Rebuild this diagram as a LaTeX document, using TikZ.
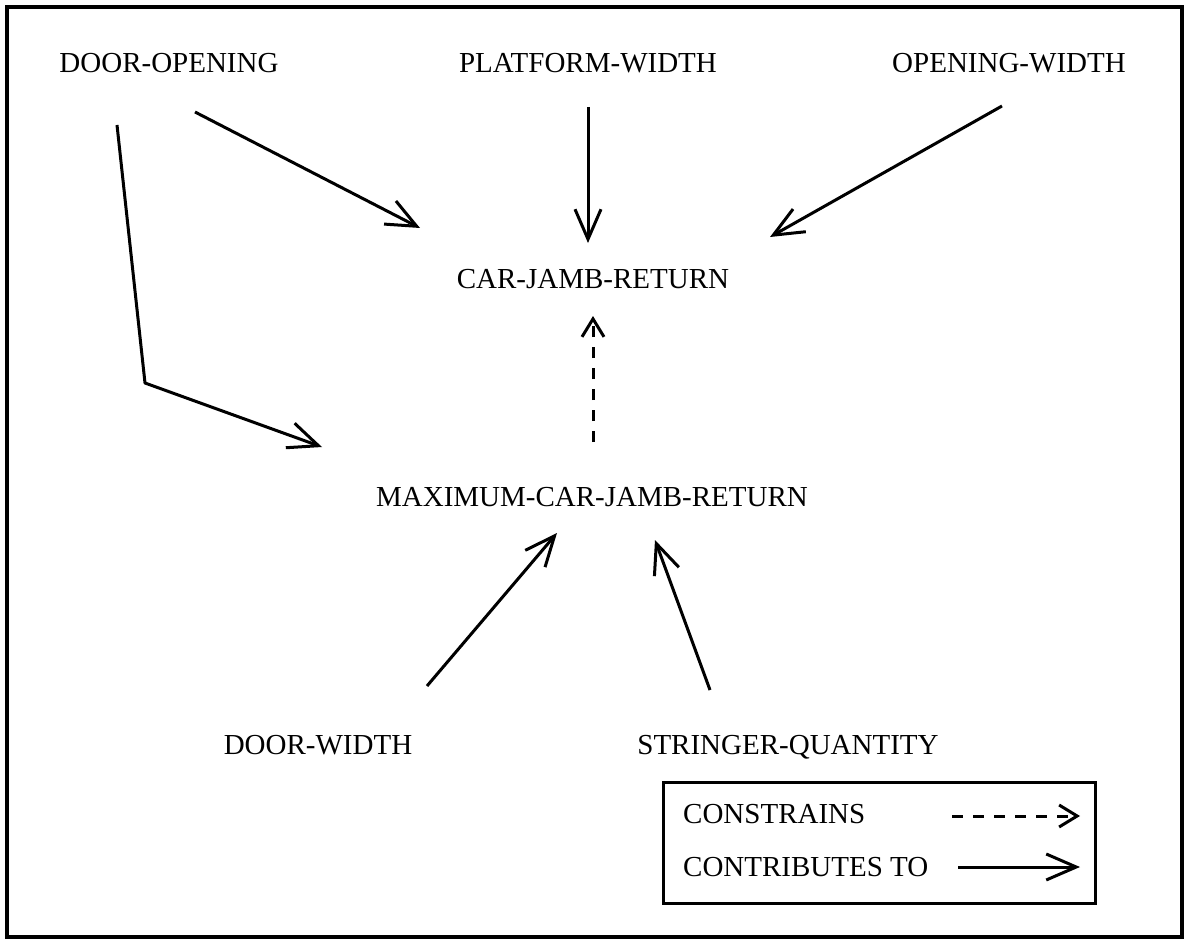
\documentclass[tikz,border=0pt]{standalone}
\usepackage{fontspec}
\setmainfont{Liberation Serif}
\usetikzlibrary{arrows.meta}
\begin{document}
\begin{tikzpicture}[x=1pt,y=-1pt,
  lbl/.style={inner sep=0pt,anchor=base,font=\fontsize{29}{34}\selectfont},
  lgd/.style={inner sep=0pt,anchor=base west,font=\fontsize{29}{34}\selectfont},
  contrib/.style={line width=3pt,line join=round,
    -{Straight Barb[length=30pt,width=26pt,line width=3pt]}},
  constr/.style={line width=3pt,dash pattern=on 11pt off 10pt,
    -{Straight Barb[length=18pt,width=22pt,line width=3pt]}}]
\useasboundingbox (0,0) rectangle (1187,939);
% outer frame
\draw[line width=3.5pt] (7,7) rectangle (1182,937);

% parameters
\node[lbl] (dooropen) at (169,73) {DOOR-OPENING};
\node[lbl] (platw)    at (588,73) {PLATFORM-WIDTH};
\node[lbl] (openw)    at (1009,73) {OPENING-WIDTH};
\node[lbl] (cjr)      at (593,288) {CAR-JAMB-RETURN};
\node[lbl] (maxcjr)   at (592,506) {MAXIMUM-CAR-JAMB-RETURN};
\node[lbl] (doorw)    at (318,754) {DOOR-WIDTH};
\node[lbl] (stringer) at (788,754) {STRINGER-QUANTITY};

% contributions
\draw[contrib] ([shift={(26,39)}]dooropen.base) -- ([shift={(-173,-60)}]cjr.base);
\draw[contrib] ([shift={(0,34)}]platw.base) -- ([shift={(-5,-45)}]cjr.base);
\draw[contrib] ([shift={(-7,33)}]openw.base) -- ([shift={(177,-51)}]cjr.base);
\draw[contrib] ([shift={(-52,52)}]dooropen.base) -- (145,383) -- ([shift={(-270,-59)}]maxcjr.base);
\draw[contrib] ([shift={(109,-68)}]doorw.base) -- ([shift={(-35,27)}]maxcjr.base);
\draw[contrib] ([shift={(-78,-64)}]stringer.base) -- ([shift={(63,34)}]maxcjr.base);

% constraint
\draw[constr] ([shift={(1,-64)}]maxcjr.base) -- ([shift={(0,28)}]cjr.base);

% legend
\node[draw,line width=3pt,minimum width=432pt,minimum height=121pt,inner sep=0pt]
  (legend) at (879,842.5) {};
\node[lgd] (kconstr)  at (683,823) {CONSTRAINS};
\node[lgd] (kcontrib) at (683,876) {CONTRIBUTES TO};
\coordinate (dashA) at (952,816);
\coordinate (dashB) at (1080,816);
\coordinate (lineA) at (958,867);
\coordinate (lineB) at (1080,867);
\draw[constr] (dashA) -- (dashB);
\draw[contrib] (lineA) -- (lineB);
\end{tikzpicture}
\end{document}
